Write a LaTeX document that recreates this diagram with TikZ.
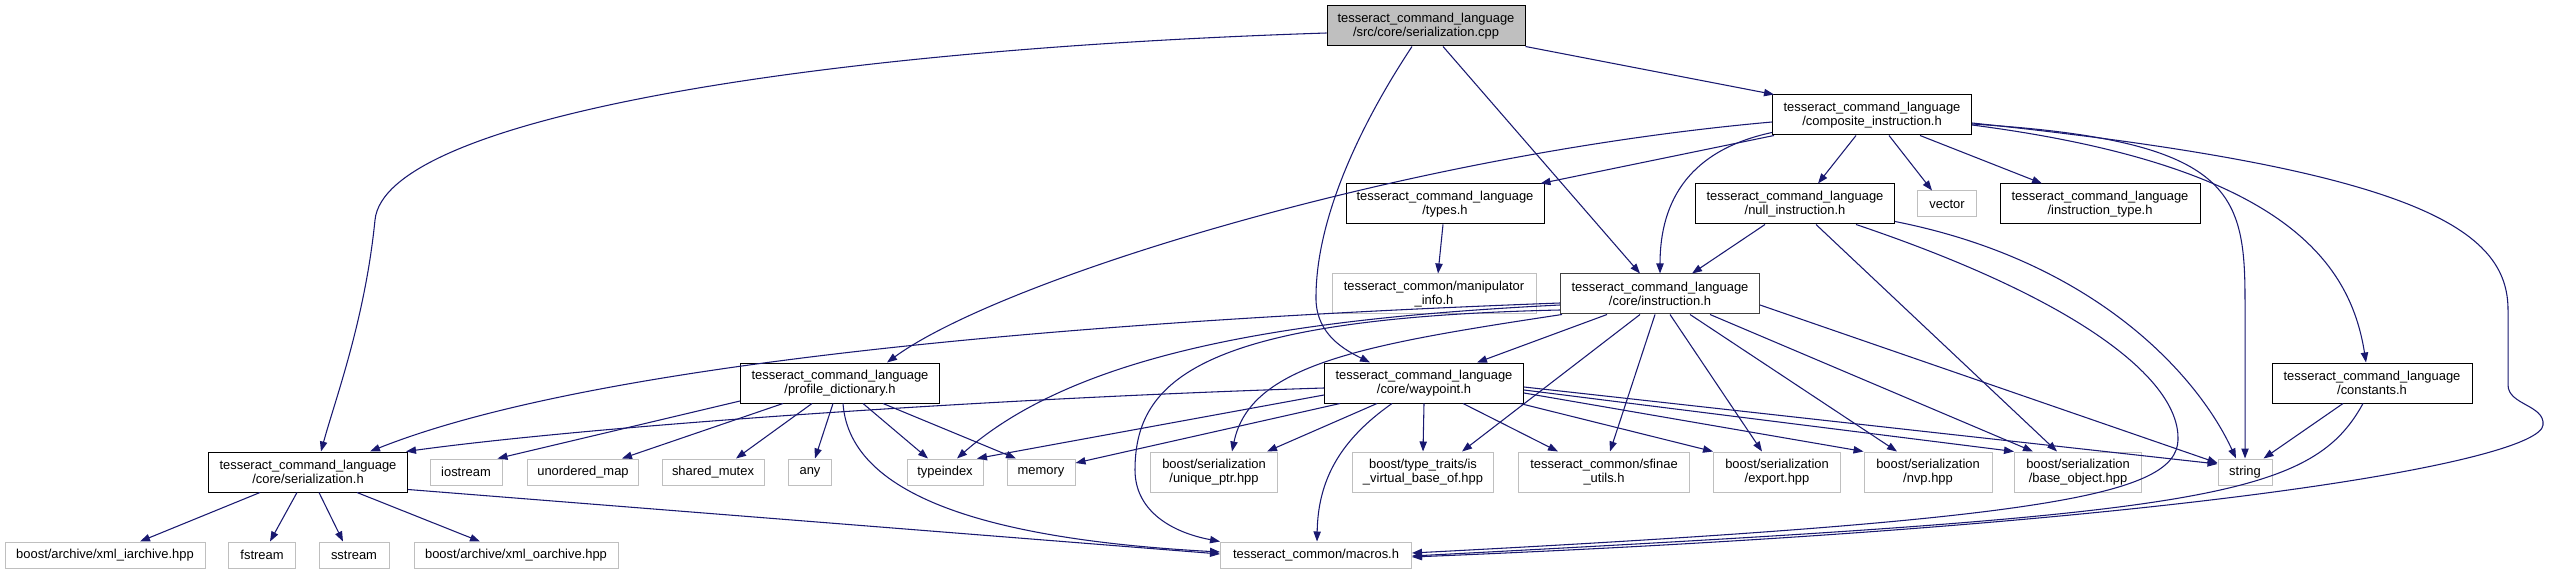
\documentclass[tikz,border=0pt]{standalone}
\usepackage{fontspec}
\setmainfont{Liberation Sans}
\usetikzlibrary{arrows.meta}
\newlength{\px}
\setlength{\px}{0.75pt}
\definecolor{edgeblue}{HTML}{191970}
\definecolor{extgray}{HTML}{BFBFBF}
\newcommand{\graphfont}{\fontsize{9.7pt}{10.5pt}\selectfont}

\begin{document}
\begin{tikzpicture}[
    x=0.75pt, y=-0.75pt,
    file/.style={draw=black, fill=white, line width=1\px, align=center, inner sep=0pt, font=\graphfont, minimum height=26\px},
    twoline/.style={minimum height=40\px},
    ext/.style={file, draw=extgray},
    src/.style={file, twoline, fill=extgray},
    link/.style={-{Triangle[length=7.5pt, width=5.5pt]}, draw=edgeblue, line width=0.8pt}
  ]
    \useasboundingbox (0,0) rectangle (2550,573);

    \node[src, minimum width=198\px] (root) at (1426,26) {tesseract\_command\_language\\/src/core/serialization.cpp};
    \node[file, twoline, minimum width=199\px] (comp) at (1872,115) {tesseract\_command\_language\\/composite\_instruction.h};
    \node[file, twoline, minimum width=198\px] (types) at (1445,204) {tesseract\_command\_language\\/types.h};
    \node[file, twoline, minimum width=199\px] (nullins) at (1795,204) {tesseract\_command\_language\\/null\_instruction.h};
    \node[ext, minimum width=59\px] (vector) at (1947,204) {vector};
    \node[file, twoline, minimum width=200\px] (instype) at (2100,204) {tesseract\_command\_language\\/instruction\_type.h};
    \node[ext, twoline, minimum width=204\px] (manip) at (1434,294) {tesseract\_common/manipulator\\\_info.h};
    \node[file, twoline, draw=black!75, minimum width=199\px] (instr) at (1660,294) {tesseract\_command\_language\\/core/instruction.h};
    \node[file, twoline, minimum width=199\px] (profile) at (840,383) {tesseract\_command\_language\\/profile\_dictionary.h};
    \node[file, twoline, minimum width=199\px] (waypoint) at (1424,383) {tesseract\_command\_language\\/core/waypoint.h};
    \node[file, twoline, minimum width=200\px] (constants) at (2372,383) {tesseract\_command\_language\\/constants.h};
    \node[file, twoline, minimum width=199\px] (serh) at (308,472) {tesseract\_command\_language\\/core/serialization.h};
    \node[ext, minimum width=72\px] (iostream) at (466,472) {iostream};
    \node[ext, minimum width=111\px] (umap) at (583,472) {unordered\_map};
    \node[ext, minimum width=102\px] (smutex) at (713,472) {shared\_mutex};
    \node[ext, minimum width=43\px] (any) at (810,472) {any};
    \node[ext, minimum width=76\px] (typeindex) at (945,472) {typeindex};
    \node[ext, minimum width=68\px] (memory) at (1041,472) {memory};
    \node[ext, twoline, minimum width=127\px] (uptr) at (1214,472) {boost/serialization\\/unique\_ptr.hpp};
    \node[ext, twoline, minimum width=141\px] (isvirt) at (1423,472) {boost/type\_traits/is\\\_virtual\_base\_of.hpp};
    \node[ext, twoline, minimum width=171\px] (sfinae) at (1604,472) {tesseract\_common/sfinae\\\_utils.h};
    \node[ext, twoline, minimum width=127\px] (export) at (1777,472) {boost/serialization\\/export.hpp};
    \node[ext, twoline, minimum width=128\px] (nvp) at (1928,472) {boost/serialization\\/nvp.hpp};
    \node[ext, twoline, minimum width=127\px] (baseobj) at (2078,472) {boost/serialization\\/base\_object.hpp};
    \node[ext, minimum width=54\px] (string) at (2245,472) {string};
    \node[ext, minimum width=200\px] (xmli) at (105,555) {boost/archive/xml\_iarchive.hpp};
    \node[ext, minimum width=67\px] (fstream) at (262,555) {fstream};
    \node[ext, minimum width=70\px] (sstream) at (354,555) {sstream};
    \node[ext, minimum width=204\px] (xmlo) at (516,555) {boost/archive/xml\_oarchive.hpp};
    \node[ext, minimum width=191\px] (macros) at (1316,555) {tesseract\_common/macros.h};

    \draw[link] ([shift={(0,7)}]root.west) .. controls (800,50) and (385,120) .. (375,220) .. controls (365,320) and (335,400) .. ([shift={(13,0)}]serh.north);
    \draw[link] ([shift={(-14,0)}]root.south) .. controls (1360,125) and (1315,220) .. (1316,300) .. controls (1317,335) and (1345,350) .. ([shift={(-54,0)}]waypoint.north);
    \draw[link] ([shift={(17,0)}]root.south) -- ([shift={(-20,0)}]instr.north);
    \draw[link] (root.south east) -- ([shift={(2,0)}]comp.north west);

    \draw[link] ([shift={(2,0)}]comp.south west) -- ([shift={(-4,0)}]types.north east);
    \draw[link] ([shift={(0,7)}]comp.west) .. controls (1400,155) and (1000,280) .. ([shift={(47,0)}]profile.north);
    \draw[link] ([shift={(0,-3)}]comp.south west) .. controls (1690,150) and (1660,200) .. (instr.north);
    \draw[link] ([shift={(-16,0)}]comp.south) -- ([shift={(23,0)}]nullins.north);
    \draw[link] ([shift={(17,0)}]comp.south) -- ([shift={(-15,0)}]vector.north);
    \draw[link] ([shift={(48,0)}]comp.south) -- ([shift={(-58,0)}]instype.north);
    \draw[link] ([shift={(0,9)}]comp.east) .. controls (2230,140) and (2245,190) .. (2245,300) -- (string.north);
    \draw[link] ([shift={(0,10)}]comp.east) .. controls (2280,165) and (2350,260) .. ([shift={(-6,0)}]constants.north);
    \draw[link] ([shift={(0,8)}]comp.east) .. controls (2420,170) and (2508,230) .. (2508,310) -- (2508,385) .. controls (2508,405) and (2545,405) .. (2543,425) .. controls (2540,460) and (2200,525) .. ([shift={(0,2)}]macros.east);

    \draw[link] ([shift={(-2,0)}]types.south) -- ([shift={(4,0)}]manip.north);

    \draw[link] ([shift={(-30,0)}]nullins.south) -- ([shift={(32,0)}]instr.north);
    \draw[link] ([shift={(21,0)}]nullins.south) -- ([shift={(-21,0)}]baseobj.north);
    \draw[link] ([shift={(61,0)}]nullins.south) .. controls (2080,300) and (2180,380) .. (2178,440) .. controls (2176,495) and (2050,520) .. ([shift={(0,-2)}]macros.east);
    \draw[link] ([shift={(0,-3)}]nullins.south east) .. controls (2100,262) and (2200,380) .. ([shift={(-9,0)}]string.north);

    \draw[link] ([shift={(0,9)}]instr.west) .. controls (1100,320) and (600,360) .. ([shift={(62,0)}]serh.north);
    \draw[link] ([shift={(0,11)}]instr.west) .. controls (1300,318) and (1080,350) .. ([shift={(12,0)}]typeindex.north);
    \draw[link] ([shift={(2,0)}]instr.south west) .. controls (1360,345) and (1250,365) .. ([shift={(18,0)}]uptr.north);
    \draw[link] ([shift={(0,16)}]instr.west) .. controls (1200,318) and (1135,380) .. (1135,470) .. controls (1135,510) and (1170,532) .. (macros.north west);
    \draw[link] ([shift={(-53,0)}]instr.south) -- ([shift={(53,0)}]waypoint.north);
    \draw[link] ([shift={(-20,0)}]instr.south) -- ([shift={(39,0)}]isvirt.north);
    \draw[link] ([shift={(-5,0)}]instr.south) -- ([shift={(6,0)}]sfinae.north);
    \draw[link] ([shift={(10,0)}]instr.south) -- ([shift={(-15,0)}]export.north);
    \draw[link] ([shift={(30,0)}]instr.south) -- ([shift={(-31,0)}]nvp.north);
    \draw[link] ([shift={(50,0)}]instr.south) -- ([shift={(-45,0)}]baseobj.north);
    \draw[link] ([shift={(0,11)}]instr.east) -- ([shift={(0,-9)}]string.west);

    \draw[link] ([shift={(0,5)}]waypoint.west) .. controls (1000,398) and (600,425) .. ([shift={(-2,0)}]serh.north east);
    \draw[link] ([shift={(0,12)}]waypoint.west) -- ([shift={(32,0)}]typeindex.north);
    \draw[link] ([shift={(16,0)}]waypoint.south west) -- ([shift={(0,-9)}]memory.east);
    \draw[link] ([shift={(-47,0)}]waypoint.south) -- ([shift={(53,0)}]uptr.north);
    \draw[link] ([shift={(-32,0)}]waypoint.south) .. controls (1340,440) and (1318,480) .. ([shift={(1,0)}]macros.north);
    \draw[link] (waypoint.south) -- (isvirt.north);
    \draw[link] ([shift={(39,0)}]waypoint.south) -- ([shift={(-46,0)}]sfinae.north);
    \draw[link] ([shift={(-4,0)}]waypoint.south east) -- (export.north west);
    \draw[link] ([shift={(0,10)}]waypoint.east) -- (nvp.north west);
    \draw[link] ([shift={(0,7)}]waypoint.east) -- (baseobj.north west);
    \draw[link] ([shift={(0,4)}]waypoint.east) -- ([shift={(0,-8)}]string.west);

    \draw[link] ([shift={(0,18)}]profile.west) -- ([shift={(-5,0)}]iostream.north east);
    \draw[link] ([shift={(43,0)}]profile.south west) -- ([shift={(39,0)}]umap.north);
    \draw[link] ([shift={(-28,0)}]profile.south) -- ([shift={(23,0)}]smutex.north);
    \draw[link] ([shift={(-7,0)}]profile.south) -- ([shift={(5,0)}]any.north);
    \draw[link] ([shift={(23,0)}]profile.south) -- ([shift={(-17,0)}]typeindex.north);
    \draw[link] ([shift={(43,0)}]profile.south) -- ([shift={(-25,0)}]memory.north);
    \draw[link] ([shift={(3,0)}]profile.south) .. controls (850,500) and (1000,540) .. ([shift={(0,-3)}]macros.west);

    \draw[link] ([shift={(-48,0)}]serh.south) -- ([shift={(35,0)}]xmli.north);
    \draw[link] ([shift={(-11,0)}]serh.south) -- ([shift={(8,0)}]fstream.north);
    \draw[link] ([shift={(11,0)}]serh.south) -- ([shift={(-11,0)}]sstream.north);
    \draw[link] ([shift={(49,0)}]serh.south) -- ([shift={(-36,0)}]xmlo.north);
    \draw[link] ([shift={(0,-3)}]serh.south east) -- ([shift={(0,-1)}]macros.west);

    \draw[link] ([shift={(-29,0)}]constants.south) -- ([shift={(-9,0)}]string.north east);
    \draw[link] ([shift={(-9,0)}]constants.south) .. controls (2310,500) and (2200,515) .. ([shift={(0,1)}]macros.east);
\end{tikzpicture}
\end{document}
